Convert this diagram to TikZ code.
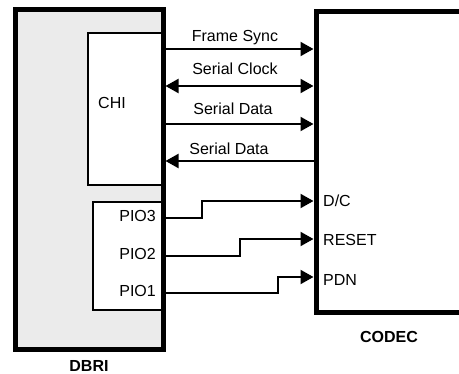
\documentclass[tikz,border=0pt]{standalone}
\usepackage{fontspec}
\setmainfont{Liberation Sans}
\usetikzlibrary{arrows.meta}
\definecolor{dbrigray}{RGB}{235,235,235}
\begin{document}
\begin{tikzpicture}[x=1pt,y=-1pt,
  font=\fontsize{16}{19}\selectfont,
  boxbase/.style={inner sep=0pt, outer sep=0pt, anchor=north west},
  thinbox/.style={boxbase, draw, line width=1.2pt, fill=white},
  border/.style={line width=5pt},
  sig/.style={line width=2pt},
  tipr/.style={-{Triangle[length=13pt,width=14pt]}, shorten >=2.5pt},
  tipl/.style={{Triangle[length=13pt,width=14pt]}-, shorten <=2.5pt},
  tipb/.style={{Triangle[length=13pt,width=14pt]}-{Triangle[length=13pt,width=14pt]}, shorten <=2.5pt, shorten >=2.5pt},
  lbl/.style={inner sep=0pt},
  title/.style={inner sep=0pt, font=\fontsize{16}{19}\selectfont\bfseries}]
\useasboundingbox (0,0) rectangle (459,374);
% DBRI block
\node[boxbase, fill=dbrigray, minimum width=148pt, minimum height=340pt] (dbri) at (15,10) {};
\node[thinbox, minimum width=75pt, minimum height=152pt] (chi) at (88,33) {};
\node[thinbox, minimum width=70pt, minimum height=108pt] (pio) at (93,202) {};
\draw[border] (dbri.north west) rectangle (dbri.south east);
% CODEC block (open to the right)
\node[boxbase, minimum width=170pt, minimum height=301pt] (codec) at (316,12) {};
\draw[border] (codec.north east) -- (codec.north west) -- (codec.south west) -- (codec.south east);
% CHI signals
\draw[sig,tipr] (dbri.east |- 0,49) -- (codec.west |- 0,49);
\draw[sig,tipb] (dbri.east |- 0,86) -- (codec.west |- 0,86);
\draw[sig,tipr] (dbri.east |- 0,124) -- (codec.west |- 0,124);
\draw[sig,tipl] (dbri.east |- 0,161) -- (codec.west |- 0,161);
\node[lbl] (fs) at (235,38) {Frame Sync};
\node[lbl] (sc) at (235,69) {Serial Clock};
\node[lbl] (sd1) at (233,109) {Serial Data};
\node[lbl] (sd2) at (229,149) {Serial Data};
% PIO signals
\draw[sig,tipr] (dbri.east |- 0,218) -| (202,201) -- (codec.west |- 0,201);
\draw[sig,tipr] (dbri.east |- 0,256) -| (240,239) -- (codec.west |- 0,239);
\draw[sig,tipr] (dbri.east |- 0,293) -| (278,277) -- (codec.west |- 0,277);
% labels
\node[lbl, anchor=west] (chil) at (98,103) {CHI};
\node[lbl, anchor=east] (p3) at (156,216) {PIO3};
\node[lbl, anchor=east] (p2) at (156,254) {PIO2};
\node[lbl, anchor=east] (p1) at (156,291) {PIO1};
\node[lbl, anchor=west] (dc) at (323,201) {D/C};
\node[lbl, anchor=west] (rs) at (323,240) {RESET};
\node[lbl, anchor=west] (pd) at (323,280) {PDN};
\node[title] (codecl) at (389,337) {CODEC};
\node[title] (dbril) at (89,366) {DBRI};
\end{tikzpicture}
\end{document}
